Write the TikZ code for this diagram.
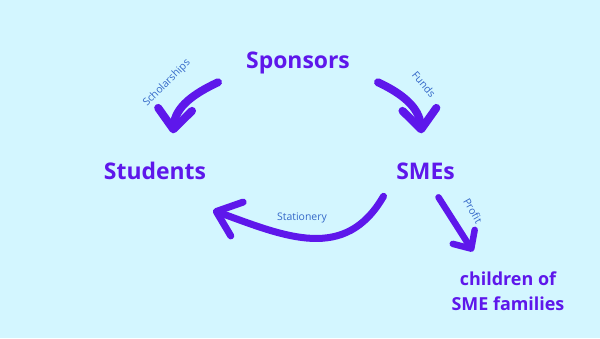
\documentclass[tikz,border=0pt]{standalone}
\usepackage{fontspec}
\setmainfont{Open Sans}
\usetikzlibrary{arrows.meta}
\definecolor{bgcyan}{HTML}{D3F6FF}
\definecolor{canvapurple}{HTML}{5E17EB}
\definecolor{lblblue}{HTML}{3468C8}
\begin{document}
\begin{tikzpicture}[x=1bp,y=1bp,
  brush/.style={draw=canvapurple, line width=8bp, line cap=round, -{Straight Barb[length=20bp,width=34bp,round]}},
  actor/.style={text=canvapurple, font=\fontsize{23}{28}\selectfont\bfseries, inner sep=0pt, anchor=base},
  flow/.style={text=lblblue, font=\fontsize{10.5}{12}\selectfont, inner sep=0pt}]
\fill[bgcyan] (0,0) rectangle (600,338);
\useasboundingbox (0,0) rectangle (600,338);
\node[actor] (spon) at (298,269.7) {Sponsors};
\node[actor] (stud) at (155,158.7) {Students};
\node[actor] (smes) at (425.5,158.7) {SMEs};
\node[actor, anchor=center, align=center, font=\fontsize{18}{25}\selectfont\bfseries] (kids) at (508,47) {children of\\SME families};
\draw[brush] ([shift={(-80,-14)}]spon.base) to[out=205,in=85] ([shift={(18,46)}]stud.base);
\draw[brush] ([shift={(80,-14)}]spon.base) to[out=-25,in=95] ([shift={(-4,46)}]smes.base);
\draw[brush, line width=7bp, -{Straight Barb[length=22bp,width=36bp,round]}] ([shift={(-42,-17)}]smes.base) to[out=240,in=-20,looseness=1.15] ([shift={(58,-31)}]stud.base);
\draw[brush, line width=6.5bp, -{Straight Barb[length=14bp,width=26bp,round]}] ([shift={(13,-18)}]smes.base) -- ([shift={(-35,20)}]kids.north);
\node[flow, rotate=45] (lsch) at (167,255) {Scholarships};
\node[flow, rotate=-50] (lfun) at (424,254) {Funds};
\node[flow] (lsta) at (302,120) {Stationery};
\node[flow, rotate=-60] (lpro) at (473,127) {Profit};
\end{tikzpicture}
\end{document}
